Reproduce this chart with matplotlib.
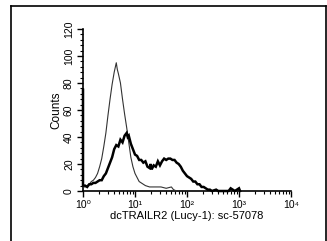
import matplotlib
matplotlib.use("Agg")
import matplotlib.pyplot as plt
from matplotlib.lines import Line2D
from matplotlib.ticker import MultipleLocator, FixedLocator, LogLocator, NullFormatter
import numpy as np

FONT = ['Liberation Sans Narrow', 'Liberation Sans', 'DejaVu Sans']
plt.rcParams['font.family'] = FONT

# isotype control (thin line): decade exponent and counts
thin_exp = [0.00, 0.00, 0.04, 0.08, 0.12, 0.16, 0.20, 0.24, 0.28, 0.32, 0.36, 0.40,
            0.44, 0.48, 0.52, 0.56, 0.60, 0.64, 0.66, 0.68, 0.72, 0.76, 0.80, 0.84,
            0.88, 0.92, 0.96, 1.00, 1.04, 1.08, 1.12, 1.16, 1.20, 1.28, 1.40, 1.50,
            1.60, 1.70, 1.74, 1.80]
thin_cnt = [40, 3, 3, 4, 5, 7, 8, 10, 13, 18, 24, 33,
            43, 56, 68, 79, 88, 95, 90, 87, 80, 68, 57, 47,
            36, 25, 18, 13, 10, 7, 6, 5, 4, 3, 3, 3,
            2, 3, 1, 0]

# dcTRAILR2 stained (thick line)
thick_exp = [0.00, 0.00, 0.04, 0.08, 0.12, 0.16, 0.20, 0.24, 0.28, 0.32, 0.36, 0.40,
             0.44, 0.48, 0.52, 0.56, 0.60, 0.64, 0.68, 0.72, 0.76, 0.80, 0.84, 0.86,
             0.88, 0.92, 0.96, 1.00, 1.04, 1.08, 1.12, 1.16, 1.20, 1.24, 1.28, 1.30,
             1.32, 1.36, 1.40, 1.44, 1.48, 1.52, 1.56, 1.60, 1.64, 1.68, 1.72, 1.76,
             1.80, 1.84, 1.88, 1.92, 1.96, 2.00, 2.04, 2.08, 2.12, 2.16, 2.20, 2.24,
             2.28, 2.32, 2.36, 2.40, 2.44, 2.48, 2.56, 2.60, 2.80, 2.84, 2.88, 2.92,
             3.00, 3.02]
thick_cnt = [75, 4, 4, 3, 5, 5, 6, 6, 7, 8, 8, 11,
             13, 17, 21, 25, 31, 34, 33, 38, 36, 41, 43, 40,
             41, 35, 31, 27, 26, 23, 23, 21, 22, 18, 17, 20,
             16, 19, 18, 22, 19, 22, 24, 23, 24, 24, 23, 23,
             21, 20, 18, 15, 13, 11, 10, 9, 7, 7, 5, 5,
             3, 3, 2, 1, 1, 0, 1, 0, 0, 2, 1, 0,
             2, 0]

y_ticks = [0, 20, 40, 60, 80, 100, 120]
x_ticks = [1, 10, 100, 1000, 10000]
x_labels = ['10⁰', '10¹', '10²', '10³', '10⁴']
x_title = 'dcTRAILR2 (Lucy-1): sc-57078'
y_title = 'Counts'

W, H = 327, 241
fig = plt.figure(figsize=(W / 100, H / 100), dpi=100)
ax = fig.add_axes([83 / W, 1 - 191 / H, (291 - 83) / W, (191 - 29) / H])

ax.plot(10 ** np.array(thin_exp), thin_cnt, color='#333333', lw=0.8, clip_on=False, zorder=3)
ax.plot(10 ** np.array(thick_exp), thick_cnt, color='black', lw=1.8, clip_on=False, zorder=4,
        solid_joinstyle='miter')

ax.set_xscale('log')
ax.set_xlim(1, 10000)
ax.set_ylim(0, 120)
for s in ['top', 'right']:
    ax.spines[s].set_visible(False)
for s in ['left', 'bottom']:
    ax.spines[s].set_linewidth(1.2)

ax.yaxis.set_major_locator(FixedLocator(y_ticks))
ax.yaxis.set_minor_locator(MultipleLocator(4))
ax.set_yticklabels([str(v) for v in y_ticks], rotation=90, va='center', fontsize=7.5)
ax.xaxis.set_major_locator(FixedLocator(x_ticks))
ax.xaxis.set_minor_locator(LogLocator(base=10, subs=np.arange(2, 10), numticks=20))
ax.xaxis.set_minor_formatter(NullFormatter())
ax.set_xticklabels(x_labels, fontsize=7.5)

ax.tick_params(axis='both', which='major', direction='out', length=4, width=1.0, pad=2.5)
ax.tick_params(axis='both', which='minor', direction='out', length=2, width=0.8)

ax.set_xlabel(x_title, fontsize=8, labelpad=0.5)
ax.set_ylabel(y_title, fontsize=8.5, labelpad=1)

# outer frame (left, top, right)
fig.add_artist(Line2D([10.5 / W, 10.5 / W], [0, 1 - 5.5 / H], transform=fig.transFigure, color='black', lw=1.2))
fig.add_artist(Line2D([10.5 / W, 325.5 / W], [1 - 5.5 / H, 1 - 5.5 / H], transform=fig.transFigure, color='black', lw=1.2))
fig.add_artist(Line2D([325.5 / W, 325.5 / W], [0, 1 - 5.5 / H], transform=fig.transFigure, color='black', lw=1.2))

fig.savefig('out.png', dpi=100)
